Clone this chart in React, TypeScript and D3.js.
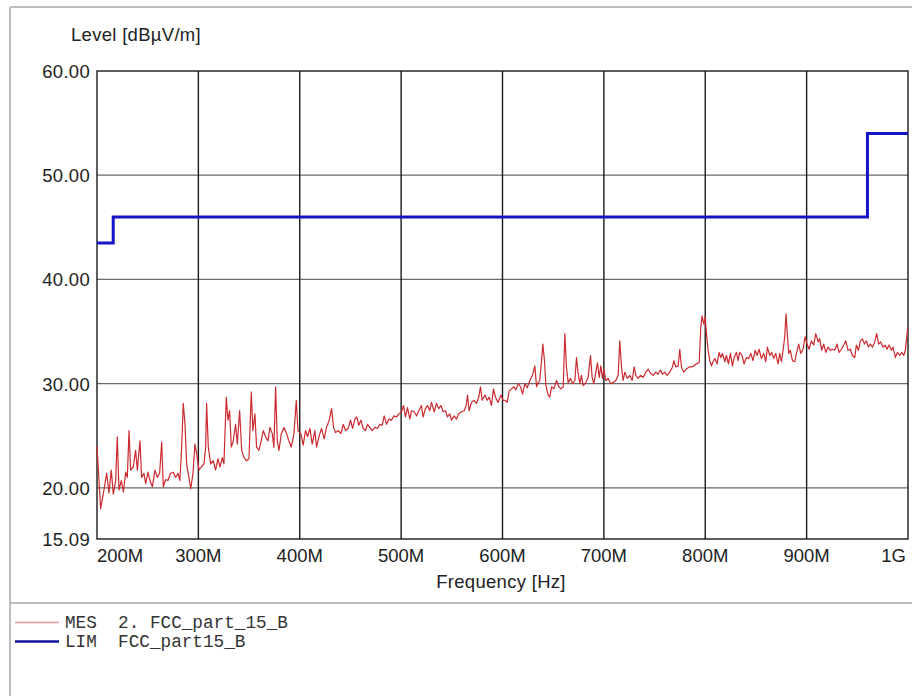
import React from "react";
import * as d3 from "d3";

// Frequency axis ticks (MHz) and labels
const xTicks = [200, 300, 400, 500, 600, 700, 800, 900, 1000];
const xTickLabels = ["200M", "300M", "400M", "500M", "600M", "700M", "800M", "900M", "1G"];
// Level axis ticks
const yTicks = [60, 50, 40, 30, 20, 15.09];
const yTickLabels = ["60.00", "50.00", "40.00", "30.00", "20.00", "15.09"];
const yGrid = [50, 40, 30, 20];

// Limit line FCC part 15 B (MHz, dBµV/m), step-after
const limFreq = [200, 216, 960, 1000];
const limLevel = [43.5, 46, 54, 54];

// Measurement trace [MHz, dBµV/m]
const mes200to400: [number, number][] = [
  [200.0, 24.0], [203.6, 18.0], [206.9, 19.8], [209.5, 21.4], [211.8, 19.5], [214.1, 21.7], [216.1, 19.4],
  [218.4, 20.7], [220.0, 24.9], [221.7, 19.8], [224.0, 20.7], [226.0, 19.6], [228.3, 21.5], [229.9, 21.0],
  [231.6, 25.5], [233.2, 21.7], [235.8, 22.0], [238.1, 23.6], [239.8, 21.7], [242.4, 24.5], [244.0, 21.0],
  [246.3, 21.4], [248.0, 20.4], [250.3, 21.5], [252.3, 20.7], [254.6, 20.1], [257.2, 21.7], [259.5, 21.0],
  [261.8, 21.4], [263.8, 24.4], [265.4, 20.1], [267.7, 20.8], [270.0, 20.7], [272.6, 21.4], [275.3, 21.5],
  [277.6, 21.0], [279.9, 21.4], [281.8, 20.7], [283.5, 23.9], [285.1, 28.1], [286.8, 26.1], [288.4, 22.3],
  [290.7, 21.0], [292.4, 19.9], [294.7, 21.4], [296.6, 24.2], [298.3, 23.3], [300.6, 21.7], [302.9, 22.0],
  [305.5, 22.3], [307.2, 23.9], [308.1, 28.1], [309.8, 23.9], [312.1, 22.3], [314.7, 22.6], [317.0, 21.7],
  [319.3, 22.8], [321.3, 22.0], [323.6, 22.9], [325.2, 22.3], [327.5, 28.7], [329.2, 26.5], [330.8, 27.4],
  [332.5, 23.9], [334.4, 24.5], [336.7, 26.1], [338.4, 24.2], [340.7, 27.4], [342.7, 23.6], [345.0, 22.9],
  [347.6, 22.6], [349.9, 22.8], [352.2, 29.2], [353.8, 25.5], [355.8, 27.1], [357.4, 23.9], [359.7, 23.6],
  [362.0, 24.5], [364.0, 25.5], [366.3, 24.9], [368.6, 24.5], [370.6, 25.8], [372.9, 25.2], [374.5, 23.9],
  [376.2, 29.7], [377.8, 24.5], [379.5, 23.6], [381.8, 25.2], [384.4, 25.8], [387.0, 25.2], [389.3, 24.5],
  [391.6, 23.9], [394.3, 25.2], [396.6, 28.4], [398.2, 25.5], [400.8, 25.2],
];
const mes400to600: [number, number][] = [
  [401.1, 25.2], [403.4, 24.1], [405.7, 25.5], [407.7, 24.9], [410.0, 25.7], [412.3, 24.2], [414.9, 25.5],
  [416.6, 23.9], [418.9, 24.9], [421.5, 25.7], [424.1, 24.7], [426.4, 25.8], [429.1, 26.5], [431.4, 27.6],
  [433.3, 25.8], [435.3, 25.3], [437.9, 25.5], [440.6, 25.2], [442.9, 26.1], [445.2, 25.5], [447.8, 25.7],
  [450.1, 26.5], [452.1, 25.7], [454.4, 26.6], [456.3, 26.8], [458.3, 26.0], [460.3, 26.5], [462.6, 25.7],
  [464.9, 25.5], [466.9, 26.1], [469.2, 25.8], [471.5, 25.5], [474.1, 25.8], [476.7, 25.7], [479.0, 26.1],
  [481.3, 26.0], [483.3, 26.9], [485.6, 26.1], [487.9, 26.6], [490.5, 26.5], [492.8, 26.9], [495.5, 26.8],
  [497.8, 27.1], [500.4, 27.3], [502.4, 27.9], [504.3, 26.8], [506.3, 27.7], [508.6, 26.6], [510.2, 27.4],
  [512.9, 27.3], [515.2, 26.9], [517.5, 27.4], [520.1, 27.9], [521.7, 26.8], [524.0, 27.6], [526.0, 27.9],
  [528.3, 27.4], [530.0, 28.2], [532.6, 27.3], [534.9, 28.1], [537.2, 27.6], [539.2, 27.9], [541.5, 27.3],
  [543.8, 27.4], [545.7, 26.8], [548.0, 27.1], [549.7, 26.5], [552.3, 26.9], [554.6, 26.6], [556.9, 27.1],
  [559.6, 27.3], [562.2, 27.4], [564.2, 27.9], [565.5, 28.9], [567.1, 27.4], [569.4, 28.2], [572.0, 28.4],
  [574.3, 28.1], [576.6, 28.7], [578.3, 29.7], [579.9, 28.4], [582.6, 28.9], [584.9, 28.4], [586.8, 28.7],
  [589.1, 27.9], [591.1, 29.5], [593.1, 28.7], [595.7, 28.2], [598.3, 28.9], [600.6, 28.4],
];
const mes600to800: [number, number][] = [
  [602.3, 28.4], [604.6, 28.2], [606.6, 29.3], [608.9, 29.5], [611.2, 29.7], [613.2, 29.4], [615.5, 30.0],
  [617.8, 29.7], [619.8, 29.0], [622.1, 30.0], [624.4, 29.6], [627.0, 30.3], [629.6, 30.8], [631.9, 31.7],
  [633.6, 29.7], [635.2, 30.1], [636.8, 30.3], [638.5, 32.2], [639.8, 33.8], [641.4, 32.2], [642.8, 29.8],
  [645.1, 28.9], [646.7, 28.7], [648.4, 29.7], [650.6, 29.5], [653.3, 30.3], [655.6, 29.7], [657.6, 29.5],
  [659.9, 29.7], [661.5, 34.8], [663.1, 31.6], [664.8, 30.1], [667.1, 30.5], [669.1, 30.0], [671.4, 30.3],
  [673.0, 32.5], [674.6, 31.0], [676.3, 30.0], [677.9, 30.8], [679.6, 29.8], [682.2, 30.1], [684.5, 30.6],
  [686.8, 32.7], [688.4, 30.6], [690.1, 30.0], [692.1, 31.1], [693.7, 32.0], [695.4, 30.6], [697.0, 31.7],
  [698.6, 30.5], [700.0, 31.4], [701.9, 30.3], [704.2, 30.5], [706.5, 30.0], [709.2, 30.1], [711.8, 30.3],
  [714.1, 30.8], [715.7, 34.1], [717.4, 31.6], [719.0, 30.3], [720.7, 31.1], [723.0, 30.5], [725.6, 30.8],
  [727.9, 30.3], [729.9, 31.6], [731.5, 30.8], [733.8, 30.5], [736.1, 30.8], [738.7, 30.6], [741.4, 31.1],
  [743.7, 31.4], [746.0, 31.0], [748.6, 30.8], [751.2, 31.1], [753.5, 30.9], [755.8, 31.3], [757.8, 30.9],
  [760.1, 31.1], [762.4, 30.8], [765.0, 31.1], [767.7, 31.6], [769.0, 32.2], [771.0, 31.6], [773.3, 31.7],
  [774.9, 33.3], [776.5, 31.6], [778.8, 31.1], [781.5, 31.4], [784.1, 31.6], [786.4, 31.6], [788.7, 31.7],
  [791.3, 31.9], [794.0, 32.0], [795.6, 35.4], [796.9, 36.5], [798.6, 35.7], [799.9, 36.4], [801.2, 34.8],
  [802.8, 33.2],
];
const mes800to1000: [number, number][] = [
  [804.5, 32.2], [806.1, 31.7], [807.7, 32.1], [809.4, 32.4], [811.7, 31.9], [813.7, 33.0], [815.3, 32.5],
  [817.0, 32.9], [819.3, 32.1], [820.9, 32.7], [822.9, 31.9], [824.8, 32.9], [826.8, 31.7], [828.5, 32.5],
  [830.8, 33.0], [832.4, 32.2], [834.0, 33.0], [836.3, 32.7], [838.3, 31.9], [840.6, 32.5], [842.9, 32.4],
  [844.9, 32.9], [847.2, 32.2], [849.2, 33.2], [851.1, 32.7], [853.1, 33.3], [855.4, 32.4], [857.7, 32.9],
  [859.7, 32.1], [861.3, 33.5], [863.6, 32.7], [865.6, 33.0], [867.6, 32.4], [869.5, 32.9], [871.8, 31.9],
  [873.5, 32.9], [875.1, 32.1], [876.8, 33.2], [878.4, 34.5], [879.7, 36.7], [881.1, 34.5], [882.4, 32.9],
  [884.0, 33.2], [886.0, 32.2], [888.3, 32.1], [889.9, 32.9], [892.2, 33.8], [894.2, 32.9], [896.5, 33.3],
  [898.5, 34.5], [900.4, 33.8], [902.4, 33.3], [904.7, 34.1], [907.0, 33.7], [909.0, 34.8], [911.3, 34.0],
  [912.9, 34.3], [914.9, 33.2], [916.9, 33.8], [918.9, 33.0], [921.1, 33.5], [923.4, 33.2], [925.4, 33.3],
  [927.7, 33.2], [930.0, 33.8], [932.0, 33.0], [934.3, 33.3], [936.6, 33.7], [938.6, 34.1], [940.9, 33.2],
  [943.2, 33.3], [945.1, 32.7], [947.4, 32.5], [949.1, 33.7], [951.1, 33.2], [953.0, 34.1], [955.0, 34.3],
  [957.0, 33.8], [959.0, 34.1], [960.9, 33.5], [962.9, 33.8], [964.9, 33.5], [967.2, 34.0], [969.1, 34.8],
  [971.1, 33.8], [973.1, 34.0], [975.4, 33.5], [977.4, 33.7], [979.3, 33.3], [981.3, 33.7], [983.6, 33.2],
  [985.2, 33.5], [987.6, 32.5], [989.5, 33.0], [991.8, 32.7], [993.8, 33.0], [995.8, 32.7], [997.4, 33.2],
  [999.1, 34.8], [1000.0, 35.4],
];

const W = 912;
const H = 696;
const plot = { left: 97, top: 71, right: 908, bottom: 539 };
const sans = "'Liberation Sans', Arial, sans-serif";
const mono = "'Liberation Mono', 'Courier New', monospace";

export default function App() {
  const x = d3.scaleLinear().domain([200, 1000]).range([plot.left, plot.right]);
  const y = d3.scaleLinear().domain([15.09, 60]).range([plot.bottom, plot.top]);

  const mesData = [...mes200to400, ...mes400to600, ...mes600to800, ...mes800to1000];
  const mesLine = d3
    .line<[number, number]>()
    .x((d) => x(d[0]))
    .y((d) => y(d[1]));
  const limPts: [number, number][] = limFreq.map((f, i) => [f, limLevel[i]]);
  const limLine = d3
    .line<[number, number]>()
    .x((d) => x(d[0]))
    .y((d) => y(d[1]))
    .curve(d3.curveStepAfter);

  return (
    <svg
      width={W}
      height={H}
      style={{ position: "absolute", left: 0, top: 0, background: "#fff" }}
    >
      <rect x={0} y={0} width={W} height={H} fill="#fff" />
      {/* outer frame */}
      <line x1={10} x2={W} y1={7} y2={7} stroke="#a8a8a8" strokeWidth={1.5} />
      <line x1={10} x2={10} y1={7} y2={H} stroke="#a8a8a8" strokeWidth={1.5} />
      <line x1={10} x2={W} y1={603} y2={603} stroke="#a8a8a8" strokeWidth={1.5} />

      {/* y title */}
      <text x={71} y={41} fontFamily={sans} fontSize={18.5} letterSpacing={0.3} fill="#222">
        Level [dBµV/m]
      </text>

      {/* horizontal grid */}
      {yGrid.map((v) => (
        <line key={v} x1={plot.left} x2={plot.right} y1={y(v)} y2={y(v)} stroke="#6a6a6a" strokeWidth={1.3} />
      ))}
      {/* vertical grid */}
      {xTicks.slice(1, -1).map((f) => (
        <line key={f} x1={x(f)} x2={x(f)} y1={plot.top} y2={plot.bottom} stroke="#1a1a1a" strokeWidth={1.4} />
      ))}
      <rect
        x={plot.left}
        y={plot.top}
        width={plot.right - plot.left}
        height={plot.bottom - plot.top}
        fill="none"
        stroke="#1a1a1a"
        strokeWidth={1.4}
      />

      {/* y tick labels */}
      {yTicks.map((v, i) => (
        <text
          key={v}
          x={90}
          y={y(v) + 7}
          textAnchor="end"
          fontFamily={sans}
          fontSize={18.5}
          letterSpacing={0.3}
          fill="#222"
        >
          {yTickLabels[i]}
        </text>
      ))}
      {/* x tick labels */}
      {xTicks.map((f, i) => (
        <text
          key={f}
          x={i === 0 ? plot.left : i === xTicks.length - 1 ? plot.right - 2 : x(f)}
          y={562}
          textAnchor={i === 0 ? "start" : i === xTicks.length - 1 ? "end" : "middle"}
          fontFamily={sans}
          fontSize={18.5}
          fill="#222"
        >
          {xTickLabels[i]}
        </text>
      ))}
      <text x={501} y={588} textAnchor="middle" fontFamily={sans} fontSize={18.5} letterSpacing={0.3} fill="#222">
        Frequency [Hz]
      </text>

      {/* data */}
      <path d={mesLine(mesData) || ""} fill="none" stroke="#cc2a30" strokeWidth={1.2} strokeLinejoin="round" />
      <path d={limLine(limPts) || ""} fill="none" stroke="#1414c8" strokeWidth={3} />

      {/* legend */}
      <line x1={15} x2={59} y1={622.5} y2={622.5} stroke="#e09a9a" strokeWidth={1.5} />
      <line x1={15} x2={59} y1={641.5} y2={641.5} stroke="#10109a" strokeWidth={2.5} />
      <text x={65} y={628} fontFamily={mono} fontSize={17.7} fill="#333" xmlSpace="preserve" style={{ whiteSpace: "pre" }}>
        {"MES  2. FCC_part_15_B"}
      </text>
      <text x={65} y={647} fontFamily={mono} fontSize={17.7} fill="#333" xmlSpace="preserve" style={{ whiteSpace: "pre" }}>
        {"LIM  FCC_part15_B"}
      </text>
    </svg>
  );
}
